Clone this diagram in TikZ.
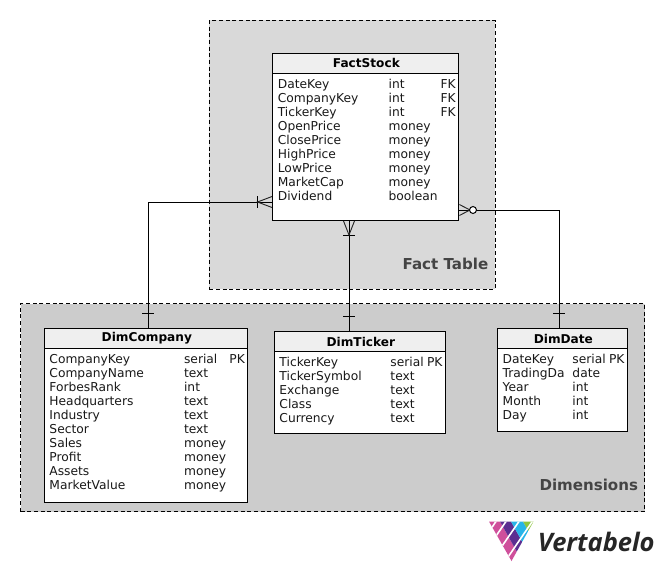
\documentclass[tikz,border=0pt]{standalone}
\usepackage{fontspec}
\setmainfont{DejaVu Sans}
\newfontfamily\logofont{Open Sans}
\usetikzlibrary{calc}
\definecolor{factbg}{HTML}{D9D9D9}
\definecolor{dimbg}{HTML}{CCCCCC}
\definecolor{headbg}{HTML}{EFEFEF}
\definecolor{grouplabel}{HTML}{444444}
\definecolor{vpink}{HTML}{CF4F9B}
\definecolor{vpurple}{HTML}{5C2D91}
\definecolor{vblue}{HTML}{27B5E8}
\definecolor{vgreen}{HTML}{8DC63F}
\tikzset{
  x=0.75pt,y=-0.75pt,
  groupbox/.style={draw=black,line width=0.6pt,dash pattern=on 3pt off 2pt,anchor=north west,inner sep=0pt},
  grouptitle/.style={anchor=base east,inner sep=0pt,text=grouplabel,font=\fontsize{11.3}{13}\selectfont\bfseries},
  tablebox/.style={draw=black,fill=white,line width=0.75pt,anchor=north west,inner sep=0pt},
  headbox/.style={draw=black,fill=headbg,line width=0.75pt,anchor=north west,inner sep=0pt,font=\fontsize{9.1}{11}\selectfont\bfseries,align=center},
  cell/.style={anchor=base west,inner sep=0pt,text=black!90,font=\fontsize{9.2}{11}\selectfont},
  rel/.style={draw=black,line width=0.75pt},
  tick/.style={draw=black,line width=0.75pt},
  foot/.style={draw=black!85,line width=0.7pt},
  opt/.style={draw=black,fill=white,line width=0.75pt,circle,inner sep=0pt,minimum size=5.2pt},
}
\newcommand{\tablerows}[5]{%
  \foreach \na/\ty/\ke [count=\ii from 0] in {#5}{%
    \path (#1,#4+14*\ii) node[cell] {\na};
    \path (#2,#4+14*\ii) node[cell] {\ty};
    \path (#3,#4+14*\ii) node[cell] {\ke};
  }%
}
\newcommand{\headtext}[1]{\hspace*{1pt}#1}
\begin{document}
\begin{tikzpicture}
\useasboundingbox (0,0) rectangle (664,571);
\fill[white] (0,0) rectangle (664,571);
% groups
\node[groupbox,fill=factbg,minimum width=214.2pt,minimum height=201.8pt] (factgroup) at (209,19.8) {};
\node[groupbox,fill=dimbg,minimum width=468pt,minimum height=156pt] (dimgroup) at (20.2,303.3) {};
\node[grouptitle] (facttitle) at (488.5,269) {Fact Table};
\node[grouptitle] (dimtitle) at (638.3,490) {Dimensions};
% tables
\node[tablebox,minimum width=139.8pt,minimum height=125.2pt] (factstock) at (272,53) {};
\node[headbox,minimum width=139.8pt,minimum height=14.8pt] (facthead) at (272,53) {\headtext{FactStock}};
\node[tablebox,minimum width=152.5pt,minimum height=130.5pt] (dimcompany) at (44,328) {};
\node[headbox,minimum width=152.5pt,minimum height=15pt] (companyhead) at (44,328) {\headtext{DimCompany}};
\node[tablebox,minimum width=128.5pt,minimum height=76.5pt] (dimticker) at (274,331) {};
\node[headbox,minimum width=128.5pt,minimum height=15pt] (tickerhead) at (274,331) {\headtext{DimTicker}};
\node[tablebox,minimum width=97.8pt,minimum height=77.2pt] (dimdate) at (497,328) {};
\node[headbox,minimum width=97.8pt,minimum height=15pt] (datehead) at (497,328) {\headtext{DimDate}};
% rows
\tablerows{277.6}{388.4}{440.4}{88}{DateKey/int/FK,CompanyKey/int/FK,TickerKey/int/FK,OpenPrice/money/,ClosePrice/money/,HighPrice/money/,LowPrice/money/,MarketCap/money/,Dividend/boolean/}
\tablerows{49.2}{183.8}{229.2}{363}{CompanyKey/serial/PK,CompanyName/text/,ForbesRank/int/,Headquarters/text/,Industry/text/,Sector/text/,Sales/money/,Profit/money/,Assets/money/,MarketValue/money/}
\tablerows{279.2}{390.2}{426.8}{366}{TickerKey/serial/PK,TickerSymbol/text/,Exchange/text/,Class/text/,Currency/text/}
\tablerows{502.4}{572.2}{608.8}{363}{DateKey/serial/PK,TradingDa/date/,Year/int/,Month/int/,Day/int/}
% connector guide coordinates
\coordinate (cx) at (148,202);
\coordinate (cbar) at (148,313);
\coordinate (cfoot) at (257.5,202);
\coordinate (tx) at (349,235);
\coordinate (tbar) at (349,316);
\coordinate (dx) at (559,210);
\coordinate (dbar) at (559,313);
\coordinate (dring) at (473,210);
\coordinate (dfoot) at (470,210);
% connectors
\draw[rel] (dimcompany.north -| cx) -- (cx) -- (factstock.west |- cx);
\draw[rel] (dimticker.north -| tx) -- (factstock.south -| tx);
\draw[rel] (dimdate.north -| dx) -- (dx) -- (factstock.east |- dx);
% one-ends
\draw[tick] ($(cbar)+(-6,0)$) -- ($(cbar)+(6,0)$);
\draw[tick] ($(tbar)+(-6,0)$) -- ($(tbar)+(6,0)$);
\draw[tick] ($(dbar)+(-6,0)$) -- ($(dbar)+(6,0)$);
% crow's feet
\draw[tick] ($(cfoot)+(0,-6)$) -- ($(cfoot)+(0,6)$);
\draw[foot] ($(factstock.west |- cfoot)+(0,-5.5)$) -- (cfoot) -- ($(factstock.west |- cfoot)+(0,5.5)$);
\draw[tick] ($(tx)+(-6,0)$) -- ($(tx)+(6,0)$);
\draw[foot] ($(factstock.south -| tx)+(-5.5,0)$) -- (tx) -- ($(factstock.south -| tx)+(5.5,0)$);
\draw[foot] ($(factstock.east |- dfoot)+(0,-5.5)$) -- (dfoot) -- ($(factstock.east |- dfoot)+(0,5.5)$);
\node[opt] (ring) at (dring) {};
% logo
\begin{scope}
\clip (489,521.5) -- (533.5,521.5) -- (511.5,561) -- cycle;
\fill[vpink] (489,521.5) -- (500,521.5) -- ++(22,39.5) -- (511,561) -- cycle;
\fill[vpurple] (500,521.5) -- (511,521.5) -- ++(22,39.5) -- ++(-11,0) -- cycle;
\fill[vblue] (511,521.5) -- (523,521.5) -- ++(22,39.5) -- ++(-12,0) -- cycle;
\fill[vgreen] (523,521.5) -- (540,521.5) -- ++(22,39.5) -- ++(-17,0) -- cycle;
\draw[white,line width=1.2pt] (497,520) -- (486,536);
\draw[white,line width=1.2pt] (507,520) -- (491,543.3);
\draw[white,line width=1.2pt] (520,520) -- (498,552);
\draw[white,line width=1.2pt] (534,519) -- (506,560);
\end{scope}
\node[anchor=base west,inner sep=0pt,text=black!85,font=\logofont\fontsize{19.1}{24}\selectfont\bfseries\itshape] (logotext) at (537.5,551) {Vertabelo};
\end{tikzpicture}
\end{document}
